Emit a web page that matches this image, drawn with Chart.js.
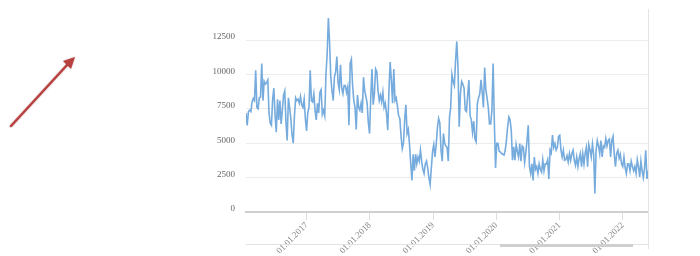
<!DOCTYPE html>
<html>
<head>
<meta charset="utf-8">
<script src="https://cdn.jsdelivr.net/npm/chart.js@4.4.1/dist/chart.umd.min.js"></script>
<style>
  html, body { margin: 0; padding: 0; background: #ffffff; }
  #wrap { width: 700px; height: 256px; position: relative; }
</style>
</head>
<body>
<div id="wrap"><canvas id="c" width="700" height="256"></canvas></div>
<script>
// ---- data (weekly values) ----
const firstWeekYear = 2016.04;      // decimal year of the first weekly value
const weekLength = 7 / 365.25;      // one week in years
const lastYear = 2022.40;           // right end of the axis
const yearTicks = [2017, 2018, 2019, 2020, 2021, 2022];
const valueTicks = [0, 2500, 5000, 7500, 10000, 12500];

const values2016 = [7200, 6300, 7300, 7400, 7300, 8000, 8260, 8100, 10300, 7600,
  7500, 8300, 8370, 10800, 8100, 9500, 9300, 9400, 9600, 7200,
  6450, 6300, 8200, 9000, 7000, 5800, 8200, 6700, 8100, 6400,
  7400, 8500, 8800, 6500, 5200, 8300, 7600, 6800, 5600, 5000,
  7000, 8300, 8100, 8200, 7900, 8400, 7800, 7600, 8200, 6800,
  5900, 7200, 7600, 10300, 8100, 8000, 8600];
const values2017 = [7400, 6700, 7900, 7200, 8700, 8900, 7100, 7400, 7000, 10000,
  11500, 14100, 12300, 9800, 8800, 8100, 9800, 10200, 11300, 9400,
  8900, 10700, 9000, 8600, 9200, 9200, 8700, 9100, 6300, 10800,
  11100, 9200, 8100, 7600, 6000, 8500, 7600, 7400, 7900, 7200,
  9800, 8800, 8400, 7900, 6500, 5700, 8400, 10400, 7800, 8600,
  10400, 10200, 8800, 8100];
const values2018 = [8500, 8000, 8700, 7600, 7900, 7160, 5950, 8800, 10900, 9600,
  7900, 10400, 8100, 8300, 7700, 7000, 6800, 5500, 4600, 5000,
  6700, 7800, 5700, 6000, 4900, 3500, 2300, 4200, 3000, 4200,
  3500, 4000, 3700, 4500, 3700, 3100, 2800, 3500, 3700, 3200,
  2500, 2000, 3200, 4400, 4900, 4000, 4900, 6100, 6800, 6500,
  4500, 3700, 5700, 5000];
const values2019 = [4800, 4700, 3700, 6900, 7600, 10000, 9500, 9200, 11000, 12400,
  10500, 6200, 8600, 9500, 9300, 9000, 7400, 7300, 8500, 9600,
  7000, 6700, 5800, 6600, 5300, 5100, 7900, 8300, 8600, 9600,
  8700, 7600, 10500, 8900, 8300, 7600, 6400, 6400, 7400, 10800,
  6600, 3200, 5000, 5000, 4400, 4370, 4250, 4200, 4130, 4500,
  5200, 6200, 6900, 6700];
const values2020 = [5900, 3760, 4730, 3760, 4900, 4400, 4000, 4980, 3700, 4800,
  4700, 3600, 4300, 5200, 6300, 3300, 2800, 3500, 2300, 4000,
  3100, 3300, 2800, 3500, 3100, 2900, 3800, 3000, 3500, 3500,
  3800, 2400, 4500, 4300, 5600, 4700, 4980, 4500, 4700, 5500,
  5580, 4500, 4000, 4490, 3760, 3800, 4100, 3640, 4250, 3760,
  4250, 4490, 3760, 3400, 4000];
const values2021 = [3300, 3900, 4250, 3300, 4250, 3500, 4300, 4700, 3300, 4900,
  4500, 4000, 4950, 4200, 1340, 4500, 5200, 4800, 4250, 5200,
  4000, 4800, 4700, 5340, 4800, 5200, 5300, 4000, 5200, 5500,
  4200, 3300, 4250, 4490, 3900, 4200, 3500, 3300, 4000, 3200,
  2800, 3500, 3500, 3000, 3700, 3300, 3000, 3300, 2800, 3800,
  3300, 2550, 3700, 3000, 2500, 3200, 4490, 2400, 3000];

const weeklyValues = [].concat(values2016, values2017, values2018, values2019, values2020, values2021);
const points = weeklyValues.map((v, i) => ({ x: firstWeekYear + i * weekLength, y: v }));

// ---- decorations: frame, scrollbar and the red arrow ----
const decor = {
  id: 'decor',
  afterDraw(chart) {
    const ctx = chart.ctx;
    const a = chart.chartArea;
    ctx.save();
    // right frame line
    ctx.strokeStyle = '#e4e4e4';
    ctx.lineWidth = 1;
    ctx.beginPath();
    ctx.moveTo(a.right + 0.5, a.top);
    ctx.lineTo(a.right + 0.5, 249);
    ctx.stroke();
    // scrollbar track
    ctx.strokeStyle = '#e2e2e2';
    ctx.beginPath();
    ctx.moveTo(a.left, 244.5);
    ctx.lineTo(a.right, 244.5);
    ctx.stroke();
    // scrollbar thumb
    ctx.fillStyle = '#cfcfcf';
    ctx.fillRect(500, 244, 133, 3);
    // red arrow
    ctx.strokeStyle = '#b8403f';
    ctx.fillStyle = '#b8403f';
    ctx.lineWidth = 2.5;
    ctx.lineCap = 'round';
    ctx.shadowColor = 'rgba(120,40,40,0.35)';
    ctx.shadowBlur = 2;
    ctx.beginPath();
    ctx.moveTo(11, 126);
    ctx.lineTo(68, 64);
    ctx.stroke();
    ctx.beginPath();
    ctx.moveTo(75, 57);
    ctx.lineTo(63, 61);
    ctx.lineTo(71, 69);
    ctx.closePath();
    ctx.fill();
    ctx.restore();
  }
};

new Chart(document.getElementById('c'), {
  type: 'line',
  data: {
    datasets: [{
      data: points,
      borderColor: '#76abdd',
      borderWidth: 1.6,
      pointRadius: 0,
      tension: 0,
      fill: false
    }]
  },
  options: {
    responsive: false,
    animation: false,
    parsing: false,
    layout: { padding: { left: 200, right: 52, top: 9, bottom: 0 } },
    plugins: { legend: { display: false }, tooltip: { enabled: false } },
    scales: {
      x: {
        type: 'linear',
        min: firstWeekYear,
        max: lastYear,
        afterBuildTicks(scale) {
          scale.ticks = yearTicks.map(v => ({ value: v }));
        },
        afterFit(scale) {
          scale.height = 44;
          scale.paddingLeft = 0;
          scale.paddingRight = 0;
        },
        grid: {
          display: true,
          drawOnChartArea: false,
          drawTicks: true,
          tickLength: 8,
          color: '#dddddd'
        },
        border: { display: true, color: '#cfcfcf', width: 2 },
        ticks: {
          autoSkip: false,
          maxRotation: 45,
          minRotation: 45,
          padding: 0,
          color: '#8a8a8a',
          font: { family: '"Liberation Serif", "DejaVu Serif", serif', size: 9 },
          callback: v => '01.01.' + v
        }
      },
      y: {
        type: 'linear',
        min: 0,
        max: 14757,
        afterBuildTicks(scale) {
          scale.ticks = valueTicks.map(v => ({ value: v }));
        },
        afterFit(scale) {
          scale.width = 46;
          scale.paddingTop = 0;
          scale.paddingBottom = 0;
        },
        grid: {
          color: '#ececec',
          lineWidth: 1,
          drawTicks: false
        },
        border: { display: false },
        ticks: {
          padding: 11,
          labelOffset: -3,
          color: '#666666',
          font: { family: '"Liberation Serif", "DejaVu Serif", serif', size: 9 },
          callback: v => String(v)
        }
      }
    }
  },
  plugins: [decor]
});
</script>
</body>
</html>
